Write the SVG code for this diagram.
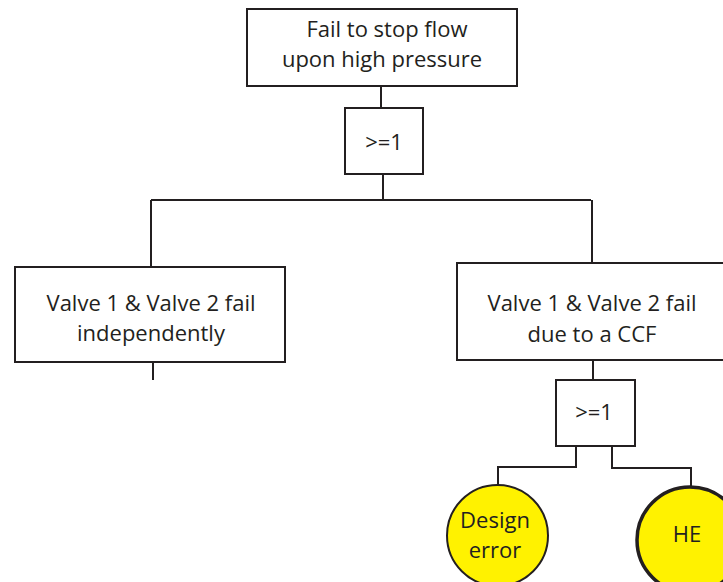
<svg xmlns="http://www.w3.org/2000/svg" width="723" height="582" viewBox="0 0 723 582">
<style>
.box{fill:#fff;stroke:#231f20;stroke-width:2}
.ln{fill:none;stroke:#231f20;stroke-width:2}
.ev{fill:#fff200;stroke:#231f20;stroke-width:2}
.ev2{fill:#fff200;stroke:#231f20;stroke-width:3.5}
text{font-family:"Open Sans","Liberation Sans",sans-serif;font-size:22px;fill:#231f20;text-anchor:middle}
</style>
<rect width="723" height="582" fill="#fff"/>
<g id="connectors">
<path class="ln" d="M381,86V108"/>
<path class="ln" d="M383,174V200M151,200H591M151,200V267M592,200V263"/>
<path class="ln" d="M153,362V380"/>
<path class="ln" d="M593,360V380"/>
<path class="ln" d="M576,446V467H498V485"/>
<path class="ln" d="M612,446V468H691V486"/>
</g>
<g id="top">
<rect class="box" x="247" y="9" width="270" height="77"/>
<text x="387" y="37">Fail to stop flow</text>
<text x="382" y="67">upon high pressure</text>
</g>
<g id="gate1">
<rect class="box" x="345" y="108" width="78" height="66"/>
<text x="384" y="150">&gt;=1</text>
</g>
<g id="indep">
<rect class="box" x="15" y="267" width="270" height="95"/>
<text x="151" y="311">Valve 1 &amp; Valve 2 fail</text>
<text x="151" y="341">independently</text>
</g>
<g id="ccf">
<rect class="box" x="457" y="263" width="270" height="97"/>
<text x="592" y="311">Valve 1 &amp; Valve 2 fail</text>
<text x="592" y="342">due to a CCF</text>
</g>
<g id="gate2">
<rect class="box" x="556" y="380" width="79" height="66"/>
<text x="594" y="420">&gt;=1</text>
</g>
<g id="design">
<circle class="ev" cx="497.5" cy="535.5" r="50.5"/>
<text x="495" y="528">Design</text>
<text x="495" y="558">error</text>
</g>
<g id="he">
<circle class="ev2" cx="690" cy="540" r="53"/>
<text x="687" y="542">HE</text>
</g>
</svg>
